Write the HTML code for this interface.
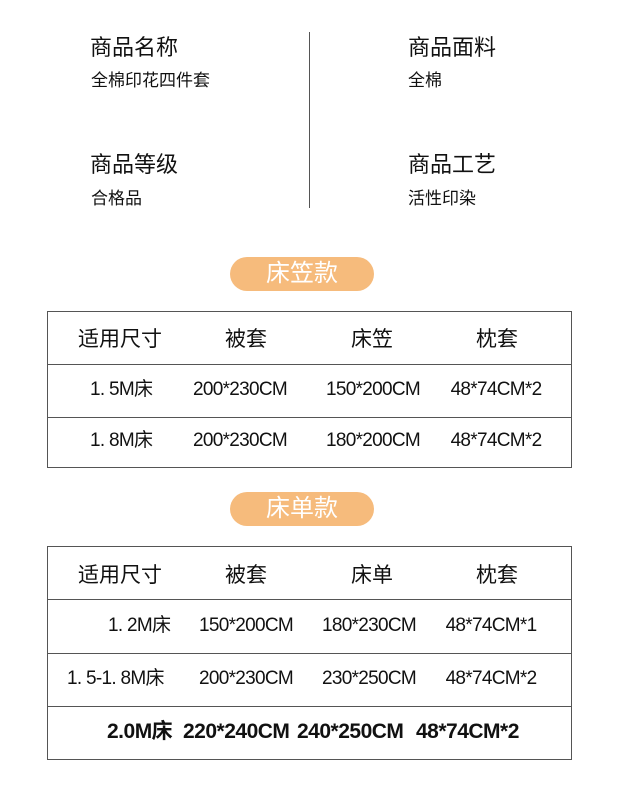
<!DOCTYPE html>
<html><head><meta charset="utf-8"><style>
body{margin:0;width:620px;height:810px;background:#fff;position:relative;overflow:hidden;font-family:"Liberation Sans","Noto Sans CJK SC",sans-serif;color:#111}
.a{position:absolute;white-space:nowrap;line-height:1}
.c{position:absolute;width:200px;text-align:center;white-space:nowrap;line-height:24px;height:24px}
.h{font-size:21px}
.n{font-size:19px;letter-spacing:-0.7px}
.b{font-size:21px;font-weight:bold;letter-spacing:-0.5px}
.ln{position:absolute;background:#555}
.pill{position:absolute;left:230px;width:144px;height:34px;border-radius:17px;background:#f6bb7c;color:#fff;font-size:24px;text-align:center;line-height:34px}
</style></head><body>
<div class="a" style="left:90px;top:37px;font-size:22px">商品名称</div>
<div class="a" style="left:91px;top:72px;font-size:17px">全棉印花四件套</div>
<div class="a" style="left:408px;top:37px;font-size:22px">商品面料</div>
<div class="a" style="left:408px;top:72px;font-size:17px">全棉</div>
<div class="a" style="left:90px;top:154px;font-size:22px">商品等级</div>
<div class="a" style="left:91px;top:190px;font-size:17px">合格品</div>
<div class="a" style="left:408px;top:154px;font-size:22px">商品工艺</div>
<div class="a" style="left:408px;top:190px;font-size:17px">活性印染</div>
<div class="ln" style="left:309px;top:32px;width:1px;height:176px"></div>

<div class="pill" style="top:257px">床笠款</div>
<div class="ln" style="left:47px;top:311px;width:525px;height:1px"></div>
<div class="ln" style="left:47px;top:364px;width:525px;height:1px"></div>
<div class="ln" style="left:47px;top:417px;width:525px;height:1px"></div>
<div class="ln" style="left:47px;top:467px;width:525px;height:1px"></div>
<div class="ln" style="left:47px;top:311px;width:1px;height:157px"></div>
<div class="ln" style="left:571px;top:311px;width:1px;height:157px"></div>
<div class="c h" style="left:20px;top:328px">适用尺寸</div>
<div class="c h" style="left:146px;top:328px">被套</div>
<div class="c h" style="left:272px;top:328px">床笠</div>
<div class="c h" style="left:397px;top:328px">枕套</div>
<div class="a n" style="left:90px;top:380px;line-height:20px">1. 5M床</div>
<div class="c n" style="left:140px;top:378px">200*230CM</div>
<div class="c n" style="left:273px;top:378px">150*200CM</div>
<div class="c n" style="left:396px;top:378px">48*74CM*2</div>
<div class="a n" style="left:90px;top:431px;line-height:20px">1. 8M床</div>
<div class="c n" style="left:140px;top:429px">200*230CM</div>
<div class="c n" style="left:273px;top:429px">180*200CM</div>
<div class="c n" style="left:396px;top:429px">48*74CM*2</div>

<div class="pill" style="top:492px">床单款</div>
<div class="ln" style="left:47px;top:546px;width:525px;height:1px"></div>
<div class="ln" style="left:47px;top:599px;width:525px;height:1px"></div>
<div class="ln" style="left:47px;top:653px;width:525px;height:1px"></div>
<div class="ln" style="left:47px;top:706px;width:525px;height:1px"></div>
<div class="ln" style="left:47px;top:759px;width:525px;height:1px"></div>
<div class="ln" style="left:47px;top:546px;width:1px;height:214px"></div>
<div class="ln" style="left:571px;top:546px;width:1px;height:214px"></div>
<div class="c h" style="left:20px;top:564px">适用尺寸</div>
<div class="c h" style="left:146px;top:564px">被套</div>
<div class="c h" style="left:272px;top:564px">床单</div>
<div class="c h" style="left:397px;top:564px">枕套</div>
<div class="a n" style="left:108px;top:616px;line-height:20px">1. 2M床</div>
<div class="c n" style="left:146px;top:614px">150*200CM</div>
<div class="c n" style="left:269px;top:614px">180*230CM</div>
<div class="c n" style="left:391px;top:614px">48*74CM*1</div>
<div class="a n" style="left:67px;top:669px;line-height:20px">1. 5-1. 8M床</div>
<div class="c n" style="left:146px;top:667px">200*230CM</div>
<div class="c n" style="left:269px;top:667px">230*250CM</div>
<div class="c n" style="left:391px;top:667px">48*74CM*2</div>
<div class="a b" style="left:107px;top:721px;line-height:21px">2.0M床</div>
<div class="a b" style="left:183px;top:721px;line-height:21px">220*240CM</div>
<div class="a b" style="left:297px;top:721px;line-height:21px">240*250CM</div>
<div class="a b" style="left:416px;top:721px;line-height:21px">48*74CM*2</div>
</body></html>
